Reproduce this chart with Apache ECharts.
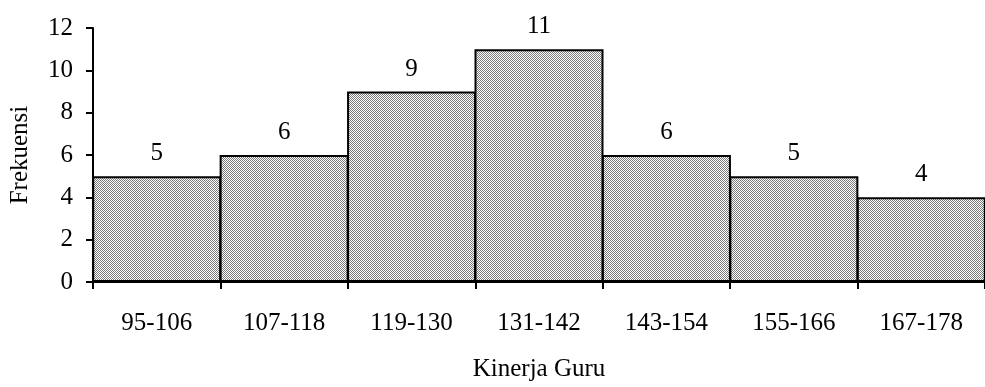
<!DOCTYPE html>
<html>
<head>
<meta charset="utf-8">
<script src="https://cdn.jsdelivr.net/npm/echarts@6/dist/echarts.min.js"></script>
<style>
html,body{margin:0;padding:0;background:#fff;}
#chart{width:985px;height:387px;}
</style>
</head>
<body>
<div id="chart"></div>
<script>
const categories = ['95-106','107-118','119-130','131-142','143-154','155-166','167-178'];
const frequencies = [5, 6, 9, 11, 6, 5, 4];
const yTicks = [0, 2, 4, 6, 8, 10, 12];

const pc = document.createElement('canvas');
pc.width = 2; pc.height = 2;
const ctx = pc.getContext('2d');
ctx.fillStyle = '#ffffff'; ctx.fillRect(0,0,2,2);
ctx.fillStyle = '#7a7a7a';
ctx.fillRect(0,0,1,1); ctx.fillRect(1,1,1,1);

const font = '"Liberation Serif", "Times New Roman", serif';
const fs = 25;
const chart = echarts.init(document.getElementById('chart'));
chart.setOption({
  animation: false,
  grid: {left: 93, top: 28, width: 900, height: 263},
  xAxis: {
    type: 'category',
    data: categories,
    name: 'Kinerja Guru',
    nameLocation: 'middle',
    nameGap: 75,
    nameTextStyle: {fontFamily: font, fontSize: fs, color: '#000'},
    axisLine: {lineStyle: {color: '#000', width: 2}},
    axisTick: {show: true, length: 7, lineStyle: {color: '#000', width: 2}, alignWithLabel: false},
    axisLabel: {fontFamily: font, fontSize: fs, color: '#000', margin: 29, interval: 0},
    splitLine: {show: false}
  },
  yAxis: {
    type: 'value',
    min: yTicks[0],
    max: yTicks[yTicks.length-1],
    interval: 2,
    name: 'Frekuensi',
    nameLocation: 'middle',
    nameGap: 60,
    nameTextStyle: {fontFamily: font, fontSize: fs, color: '#000'},
    axisLine: {show: true, lineStyle: {color: '#000', width: 2}},
    axisTick: {show: true, length: 7, lineStyle: {color: '#000', width: 2}},
    axisLabel: {fontFamily: font, fontSize: fs, color: '#000', margin: 20},
    splitLine: {show: false}
  },
  series: [{
    type: 'bar',
    data: frequencies,
    barWidth: 129,
    barCategoryGap: 0,
    itemStyle: {color: {image: pc, repeat: 'repeat'}, borderColor: '#000', borderWidth: 2},
    label: {show: true, position: 'top', distance: 10, fontFamily: font, fontSize: fs, color: '#000'}
  }]
});
</script>
</body>
</html>
